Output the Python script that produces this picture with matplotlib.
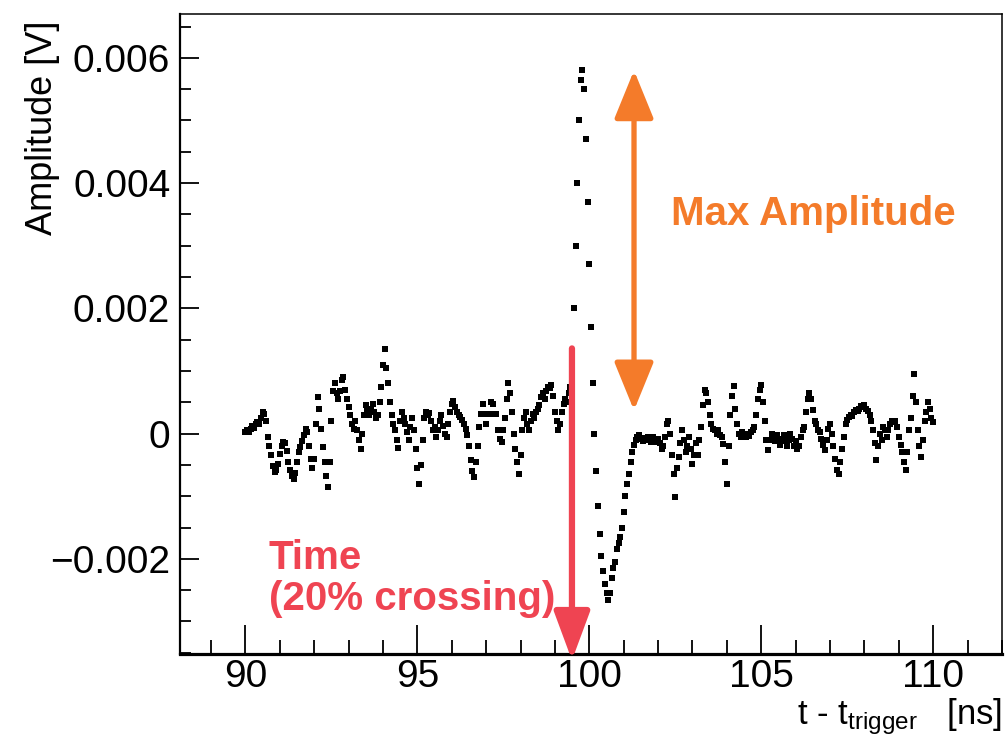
import numpy as np
import matplotlib
matplotlib.use("Agg")
import matplotlib.pyplot as plt
from matplotlib.ticker import MultipleLocator, FuncFormatter

plt.rcParams['font.family'] = ['Liberation Sans', 'DejaVu Sans']
plt.rcParams['mathtext.default'] = 'regular'

# waveform sampled every 0.05 ns starting at 90 ns, amplitude in units of 1e-4 V
t_start = 90.0
t_step = 0.05
amp_1e4 = [
    # 90 ns
    0.2, 0.5, 0.3, 0.8, 1.2, 0.9, 1.5, 1.8, 1.6, 2.5, 3.5, 3.2, 2.0, -0.5, -2.0, -3.4, -5.2, -6.2, -5.8, -4.8,
    # 91 ns
    -3.2, -2.0, -1.3, -1.5, -2.8, -4.5, -5.8, -6.8, -7.2, -6.3, -4.5, -3.0, -2.2, -1.2, -0.2, 0.8, 0.2, -2.0, -4.0, -5.5,
    # 92 ns
    -4.0, 1.5, 5.8, 4.0, 0.8, -2.2, -4.5, -6.8, -8.5, -4.5, 2.0, 6.8, 8.0, 6.5, 5.5, 6.8, 8.5, 9.0, 7.0, 5.5,
    # 93 ns
    4.2, 3.0, 1.5, 0.8, 2.0, 0.5, -1.0, -2.5, 0.0, 3.0, 4.5, 3.8, 3.0, 4.0, 4.8, 3.5, 2.5, 3.0, 5.0, 7.5,
    # 94 ns
    11.0, 13.5, 10.5, 8.0, 5.0, 3.0, 1.5, 0.5, -1.0, -2.3, 2.0, 3.5, 2.5, 1.5, 0.2, -1.0, 1.0, 2.5, 0.5, -2.5,
    # 95 ns
    -5.5, -8.0, -5.0, -1.0, 2.5, 3.5, 3.0, 3.3, 2.0, 0.5, 1.0, -0.5, 0.5, 2.0, 3.0, 1.2, 0.0, -0.6, 1.5, 3.5,
    # 96 ns
    4.8, 5.2, 4.2, 3.5, 3.0, 2.6, 2.2, 1.5, 0.8, -0.3, -2.0, -4.2, -6.0, -7.0, -4.5, -2.0, 1.0, 3.2, 4.8, 3.2,
    # 97 ns
    1.6, 3.2, 3.2, 5.0, 4.8, 3.2, 3.2, 0.5, -0.8, -1.4, 0.5, 2.5, 5.5, 8.0, 6.5, 3.5, 0.0, -2.5, -4.5, -6.5,
    # 98 ns
    -3.5, 0.5, 2.5, 3.5, 1.5, 0.5, 2.0, 3.2, 2.5, 3.5, 4.0, 4.5, 5.8, 6.5, 5.5, 6.8, 7.5, 7.2, 7.8, 6.0,
    # 99 ns
    3.5, 2.0, 0.5, 1.5, 3.5, 4.8, 5.5, 5.0, 6.5, 7.5, 12.0, 20.0, 30.0, 40.0, 50.0, 56.5, 58.0, 55.0, 47.0, 37.0,
    # 100 ns
    27.0, 17.0, 8.0, 0.0, -6.0, -11.5, -16.0, -19.5, -22.0, -24.0, -25.5, -26.5, -25.5, -23.0, -21.5, -20.5, -18.5, -17.5, -16.5, -15.0,
    # 101 ns
    -12.5, -10.0, -8.0, -6.5, -4.5, -3.0, -1.8, -1.0, -0.5, -0.2, -0.8, -1.2, -0.7, -1.0, -0.5, -0.8, -1.3, -0.6, -1.0, -1.4,
    # 102 ns
    -0.8, -1.5, -2.5, -2.0, -0.5, 1.5, 2.0, 0.0, -3.5, -6.5, -10.2, -5.5, -3.8, -1.5, 0.5, -1.0, -3.0, -2.0, -0.6, -2.5,
    # 103 ns
    -4.8, -3.5, -1.5, -3.5, -1.0, 1.0, 4.5, 7.0, 6.5, 5.0, 3.0, 1.5, 0.8, 0.5, 0.0, 0.5, -0.2, -0.6, -1.6, -4.5,
    # 104 ns
    -8.0, -2.0, 3.0, 6.0, 7.6, 4.0, 1.5, 0.0, -0.5, 0.2, -0.3, -0.6, 0.0, -0.4, 0.2, 0.5, 1.0, 3.0, 5.5, 7.0,
    # 105 ns
    7.8, 5.0, 2.0, -1.0, -2.7, -1.0, 0.0, -0.5, -1.2, -0.3, -0.8, -1.8, -1.0, -0.2, -1.2, -2.0, -1.0, 0.0, -0.8, -2.0,
    # 106 ns
    -1.2, -2.5, -2.0, -0.5, 0.5, 1.0, 3.5, 5.5, 6.5, 5.5, 3.8, 2.0, 1.5, 0.5, 0.2, -0.8, -1.8, -2.7, -1.0, 0.8,
    # 107 ns
    1.5, 0.0, -2.0, -4.0, -5.8, -6.5, -4.5, -2.5, -0.5, 1.5, 2.2, 2.6, 3.0, 2.8, 3.4, 3.8, 3.6, 4.0, 4.4, 4.2,
    # 108 ns
    4.5, 4.0, 3.6, 3.0, 2.0, 0.5, -1.5, -4.3, -2.0, 0.0, -1.0, 1.0, 0.5, -0.5, 0.5, 1.5, 2.0, 1.8, 2.0, 1.0,
    # 109 ns
    -0.6, -1.8, -3.0, -4.5, -5.8, -3.0, 0.5, 2.5, 6.0, 9.5, 5.0, 0.5, -2.0, -3.8, -1.0, 2.0, 3.5, 5.0, 4.0, 2.5,
    # 110 ns
    1.8,
]

amp = np.array(amp_1e4) * 1e-4
t = t_start + t_step * np.arange(len(amp))

orange = '#F47B2A'
red = '#EF4452'

# 20% constant fraction crossing on the rising edge
i_pk = int(np.argmax(amp))
thr = 0.2 * amp[i_pk]
i = np.where(amp[:i_pk] < thr)[0][-1]
t_cross = t[i] + (thr - amp[i]) / (amp[i + 1] - amp[i]) * t_step

fig = plt.figure(figsize=(10.06, 7.36), dpi=100)
ax = fig.add_axes([0.179, 0.1114, 0.817, 0.8696])

ax.plot(t, amp, ls='none', marker='s', ms=4.8, mew=0, color='black', zorder=3)

ax.set_xlim(88.1, 112.0)
ax.set_ylim(-0.00352, 0.00670)

ax.xaxis.set_major_locator(MultipleLocator(5))
ax.xaxis.set_minor_locator(MultipleLocator(1))
ax.yaxis.set_major_locator(MultipleLocator(0.002))
ax.yaxis.set_minor_locator(MultipleLocator(0.0005))
ax.yaxis.set_major_formatter(FuncFormatter(
    lambda v, p: '0' if abs(v) < 1e-9 else ('%g' % v).replace('-', '\u2212')))

ax.tick_params(axis='x', which='major', direction='in', length=21, width=1.3,
               top=False, labelsize=28, pad=3.5)
ax.tick_params(axis='x', which='minor', direction='in', length=10, width=1.3, top=False)
ax.tick_params(axis='y', which='major', direction='in', length=14, width=1.3,
               right=False, labelsize=28, pad=7)
ax.tick_params(axis='y', which='minor', direction='in', length=8, width=1.3, right=False)

ax.spines['left'].set_linewidth(1.6)
ax.spines['bottom'].set_linewidth(2.3)
ax.spines['top'].set_linewidth(1.1)
ax.spines['right'].set_linewidth(1.1)

ax.set_ylabel('Amplitude [V]', fontsize=26, loc='top')
ax.yaxis.set_label_coords(-0.146, 0.99)
ax.set_xlabel('t - t$_{trigger}$   [ns]', fontsize=25, loc='right')
ax.xaxis.set_label_coords(1.0, -0.0656)

# max amplitude arrow
ax.annotate('', xy=(101.3, amp[i_pk]), xytext=(101.3, 0.00037),
            arrowprops=dict(arrowstyle='<|-|>,head_length=1.35,head_width=0.55',
                            mutation_scale=22, color=orange, lw=3.8,
                            shrinkA=0, shrinkB=0), zorder=4)
ax.text(102.38, 0.00351, 'Max Amplitude', color=orange, fontsize=29,
        fontweight='bold', ha='left', va='center')

# timing arrow
ax.annotate('', xy=(t_cross, -0.00362), xytext=(t_cross, 0.00136),
            arrowprops=dict(arrowstyle='-|>,head_length=1.35,head_width=0.5',
                            mutation_scale=22, color=red, lw=4.5,
                            shrinkA=0, shrinkB=0),
            annotation_clip=False, zorder=4)
ax.text(90.68, -0.00231, 'Time\n(20% crossing)', color=red, fontsize=29,
        fontweight='bold', ha='left', va='center', linespacing=1.1)

fig.savefig('out.png', dpi=100)
